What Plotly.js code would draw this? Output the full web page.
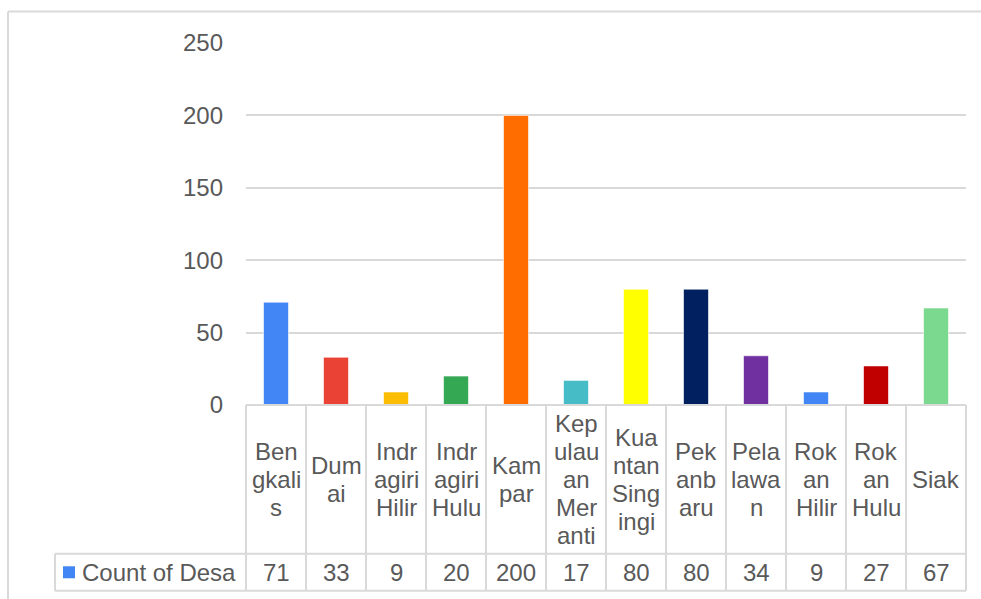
<!DOCTYPE html>
<html><head><meta charset="utf-8">
<script src="https://cdn.plot.ly/plotly-3.0.1.min.js"></script>
<style>html,body{margin:0;padding:0;background:#fff;} #chart{width:981px;height:599px;}</style>
</head><body><div id="chart"></div>
<script>
// ---- data ----
const categories = ["Bengkalis","Dumai","Indragiri Hilir","Indragiri Hulu","Kampar","Kepulauan Meranti","Kuantan Singingi","Pekanbaru","Pelalawan","Rokan Hilir","Rokan Hulu","Siak"];
const categoryLabelLines = [["Ben","gkali","s"],["Dum","ai"],["Indr","agiri","Hilir"],["Indr","agiri","Hulu"],["Kam","par"],["Kep","ulau","an","Mer","anti"],["Kua","ntan","Sing","ingi"],["Pek","anb","aru"],["Pela","lawa","n"],["Rok","an","Hilir"],["Rok","an","Hulu"],["Siak"]];
const values = [71,33,9,20,200,17,80,80,34,9,27,67];
const seriesName = "Count of Desa";
const barColors = ["#4285F4","#EA4335","#FBBC04","#34A853","#FF6D01","#46BDC6","#FFFF00","#002060","#7030A0","#4285F4","#C00000","#7BD88F"];
const yTicks = [0,50,100,150,200,250];

// ---- geometry (pixels) ----
const W = 981, H = 599;
const L = 246, R = 966, T = 42.5, B = 405;
const px2x = p => (p - L) / (R - L);
const py2y = p => (B - p) / (B - T);
const gridCol = "#d9d9d9";
const txtCol = "#595959";
const FONT = "Liberation Sans, Arial, Helvetica, sans-serif";
const FS = 24;

const tableTop = 405, rowDiv = 554, tableBot = 591, legLeft = 55;
const colW = (R - L) / categories.length;

const shapes = [];
function line(x0, y0, x1, y1, color, w) {
  shapes.push({type: "line", xref: "paper", yref: "paper",
    x0: px2x(x0), y0: py2y(y0), x1: px2x(x1), y1: py2y(y1),
    line: {color: color, width: w}});
}
// outer frame
line(8, 11, 8, H + 5, gridCol, 2);
line(8, 11, W + 5, 11, gridCol, 2);
// table
line(L, tableTop, R, tableTop, gridCol, 2);
line(legLeft, rowDiv, R, rowDiv, gridCol, 2);
line(legLeft, tableBot, R, tableBot, gridCol, 2);
line(legLeft, rowDiv, legLeft, tableBot, gridCol, 2);
for (let i = 0; i <= categories.length; i++) {
  line(L + i * colW, tableTop, L + i * colW, tableBot, gridCol, 2);
}
// legend key
shapes.push({type: "rect", xref: "paper", yref: "paper",
  x0: px2x(63), x1: px2x(75), y0: py2y(578.5), y1: py2y(566.5),
  fillcolor: barColors[0], line: {width: 0}});

const annotations = [];
const lineGap = 28;
const labelCenter = (tableTop + rowDiv) / 2;
categoryLabelLines.forEach((lines, i) => {
  const n = lines.length;
  lines.forEach((t, k) => {
    annotations.push({xref: "x", yref: "paper", x: i, y: py2y(labelCenter + (k - (n - 1) / 2) * lineGap),
      text: t, showarrow: false, xanchor: "center", yanchor: "middle",
      font: {family: FONT, size: FS, color: txtCol}});
  });
});
const valCenter = (rowDiv + tableBot) / 2;
values.forEach((v, i) => {
  annotations.push({xref: "x", yref: "paper", x: i, y: py2y(valCenter),
    text: String(v), showarrow: false, xanchor: "center", yanchor: "middle",
    font: {family: FONT, size: FS, color: txtCol}});
});
annotations.push({xref: "paper", yref: "paper", x: px2x(80), y: py2y(valCenter),
  text: seriesName, showarrow: false, xanchor: "left", yanchor: "middle",
  font: {family: FONT, size: FS, color: txtCol}});

const trace = {
  type: "bar", x: categories, y: values, name: seriesName,
  marker: {color: barColors, line: {color: "rgba(255,255,255,0.6)", width: 1}},
  width: 25 / colW, hoverinfo: "skip"
};

const layout = {
  width: W, height: H,
  margin: {l: L, r: W - R, t: T, b: H - B, pad: 0},
  paper_bgcolor: "#fff", plot_bgcolor: "#fff",
  showlegend: false,
  font: {family: FONT, size: FS, color: txtCol},
  xaxis: {type: "category", range: [-0.5, categories.length - 0.5], showticklabels: false,
    showgrid: false, zeroline: false, showline: false, ticks: ""},
  yaxis: {range: [0, 250], tickvals: yTicks, showgrid: true, gridcolor: gridCol, gridwidth: 2,
    zeroline: false, showline: false, ticks: "", ticklabelstandoff: 22,
    tickfont: {family: FONT, size: FS, color: txtCol}},
  shapes: shapes, annotations: annotations, bargap: 0.58
};
Plotly.newPlot("chart", [trace], layout, {displayModeBar: false, staticPlot: true});
</script></body></html>
